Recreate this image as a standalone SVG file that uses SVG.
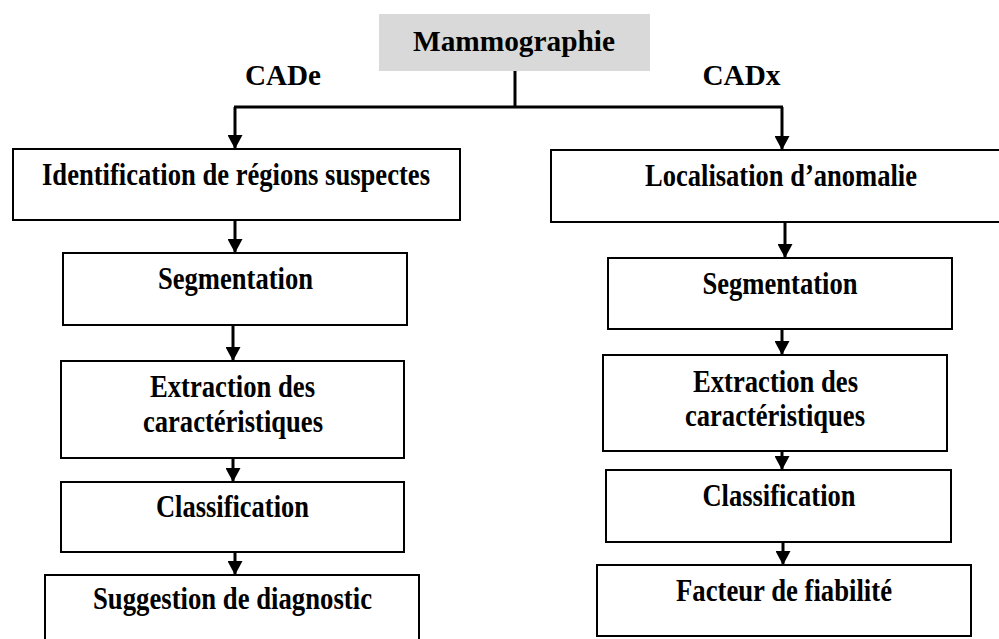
<svg xmlns="http://www.w3.org/2000/svg" width="999" height="639" viewBox="0 0 999 639">
<style>
.box{fill:#fff;stroke:#000;stroke-width:2}
.t{font-family:"Liberation Serif","Times New Roman",serif;font-weight:bold;font-size:31px;fill:#000;text-anchor:middle}
.lbl{font-size:29px}
.con{fill:none;stroke:#000;stroke-width:3}
</style>
<defs>
<marker id="ah" viewBox="0 0 14 15" refX="14" refY="7.5" markerWidth="14" markerHeight="15" markerUnits="userSpaceOnUse" orient="auto">
<path d="M0,0 L14,7.5 L0,15 z" fill="#000"/>
</marker>
</defs>
<rect width="999" height="639" fill="#fff"/>
<g id="root">
<rect x="379" y="14" width="271" height="57" fill="#d9d9d9"/>
<text class="t lbl" x="514" y="51" textLength="202" lengthAdjust="spacingAndGlyphs">Mammographie</text>
</g>
<text class="t lbl" x="283" y="85" textLength="76" lengthAdjust="spacingAndGlyphs">CADe</text>
<text class="t lbl" x="741.5" y="85" textLength="78" lengthAdjust="spacingAndGlyphs">CADx</text>
<g id="connectors">
<path class="con" d="M515,71 V107"/>
<path class="con" d="M234,107 H783"/>
<path class="con" d="M235,107 V149" marker-end="url(#ah)"/>
<path class="con" d="M782,107 V150" marker-end="url(#ah)"/>
<path class="con" d="M235,220 V253" marker-end="url(#ah)"/>
<path class="con" d="M233,325 V361" marker-end="url(#ah)"/>
<path class="con" d="M233,458 V482" marker-end="url(#ah)"/>
<path class="con" d="M235,552 V575" marker-end="url(#ah)"/>
<path class="con" d="M785,222 V258" marker-end="url(#ah)"/>
<path class="con" d="M782,329 V355" marker-end="url(#ah)"/>
<path class="con" d="M782,451 V470" marker-end="url(#ah)"/>
<path class="con" d="M783,542 V565" marker-end="url(#ah)"/>
</g>
<g id="l1"><rect class="box" x="13" y="149" width="447" height="71"/><text class="t" x="236" y="185" textLength="388" lengthAdjust="spacingAndGlyphs">Identification de régions suspectes</text></g>
<g id="l2"><rect class="box" x="63" y="253" width="344" height="72"/><text class="t" x="235.5" y="289" textLength="155" lengthAdjust="spacingAndGlyphs">Segmentation</text></g>
<g id="l3"><rect class="box" x="61" y="361" width="343" height="97"/><text class="t" x="232.5" y="397" textLength="165" lengthAdjust="spacingAndGlyphs">Extraction des</text><text class="t" x="233" y="432" textLength="180" lengthAdjust="spacingAndGlyphs">caractéristiques</text></g>
<g id="l4"><rect class="box" x="61" y="482" width="343" height="70"/><text class="t" x="232.5" y="517" textLength="153" lengthAdjust="spacingAndGlyphs">Classification</text></g>
<g id="l5"><rect class="box" x="45" y="575" width="374" height="80"/><text class="t" x="232.5" y="609" textLength="279" lengthAdjust="spacingAndGlyphs">Suggestion de diagnostic</text></g>
<g id="r1"><rect class="box" x="551" y="150" width="460" height="72"/><text class="t" x="781" y="186" textLength="272" lengthAdjust="spacingAndGlyphs">Localisation d’anomalie</text></g>
<g id="r2"><rect class="box" x="608" y="258" width="344" height="71"/><text class="t" x="780" y="294" textLength="155" lengthAdjust="spacingAndGlyphs">Segmentation</text></g>
<g id="r3"><rect class="box" x="603" y="355" width="344" height="96"/><text class="t" x="775.5" y="392" textLength="165" lengthAdjust="spacingAndGlyphs">Extraction des</text><text class="t" x="775" y="426" textLength="180" lengthAdjust="spacingAndGlyphs">caractéristiques</text></g>
<g id="r4"><rect class="box" x="606" y="470" width="345" height="72"/><text class="t" x="779" y="506" textLength="153" lengthAdjust="spacingAndGlyphs">Classification</text></g>
<g id="r5"><rect class="box" x="597" y="565" width="374" height="71"/><text class="t" x="784" y="601" textLength="216" lengthAdjust="spacingAndGlyphs">Facteur de fiabilité</text></g>
</svg>
